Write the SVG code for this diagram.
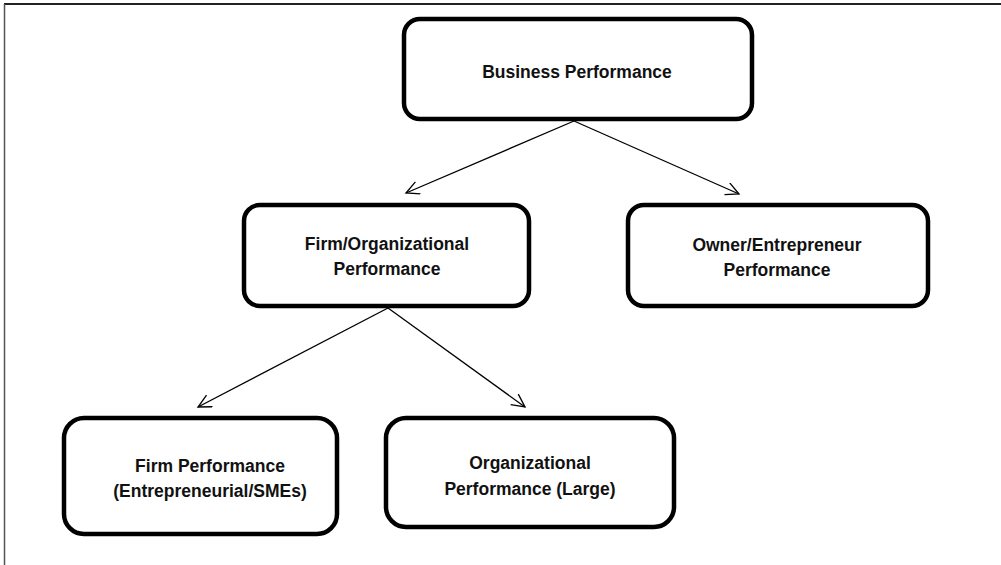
<svg xmlns="http://www.w3.org/2000/svg" width="1001" height="565" viewBox="0 0 1001 565">
<style>
.box{fill:#fff;stroke:#000;stroke-width:4.5}
.lbl{font-family:"Liberation Sans",Arial,sans-serif;font-weight:bold;font-size:17.5px;fill:#111;text-anchor:middle}
.conn{stroke:#000;stroke-width:1.3;fill:none;marker-end:url(#arr)}
</style>
<defs>
<marker id="arr" markerWidth="20" markerHeight="20" refX="14" refY="7" orient="auto" markerUnits="userSpaceOnUse">
<path d="M1,0.5 L14,7 L1,13.5" fill="none" stroke="#000" stroke-width="1.3"/>
</marker>
</defs>
<rect x="0" y="0" width="1001" height="565" fill="#fff"/>
<g id="frame">
<line x1="4" y1="4" x2="1001" y2="4" stroke="#222" stroke-width="2"/>
<line x1="4.5" y1="4" x2="4.5" y2="565" stroke="#555" stroke-width="1.5"/>
</g>
<g id="connectors">
<line class="conn" x1="574" y1="121" x2="406" y2="193"/>
<line class="conn" x1="574" y1="121" x2="739" y2="194"/>
<line class="conn" x1="388" y1="308" x2="198" y2="407"/>
<line class="conn" x1="388" y1="308" x2="525" y2="407"/>
</g>
<g id="business">
<rect class="box" x="404" y="19" width="348" height="100" rx="16"/>
<text class="lbl" x="577" y="78">Business Performance</text>
</g>
<g id="firmorg">
<rect class="box" x="244" y="205" width="285" height="101" rx="16"/>
<text class="lbl" x="387" y="250">Firm/Organizational</text>
<text class="lbl" x="387" y="275">Performance</text>
</g>
<g id="owner">
<rect class="box" x="628" y="205" width="300" height="101" rx="16"/>
<text class="lbl" x="777" y="251">Owner/Entrepreneur</text>
<text class="lbl" x="777" y="276">Performance</text>
</g>
<g id="firmperf">
<rect class="box" x="64" y="418" width="273" height="116" rx="20"/>
<text class="lbl" x="210" y="472">Firm Performance</text>
<text class="lbl" x="210" y="497">(Entrepreneurial/SMEs)</text>
</g>
<g id="orgperf">
<rect class="box" x="386" y="418" width="288" height="109" rx="20"/>
<text class="lbl" x="530" y="469">Organizational</text>
<text class="lbl" x="530" y="495">Performance (Large)</text>
</g>
</svg>
